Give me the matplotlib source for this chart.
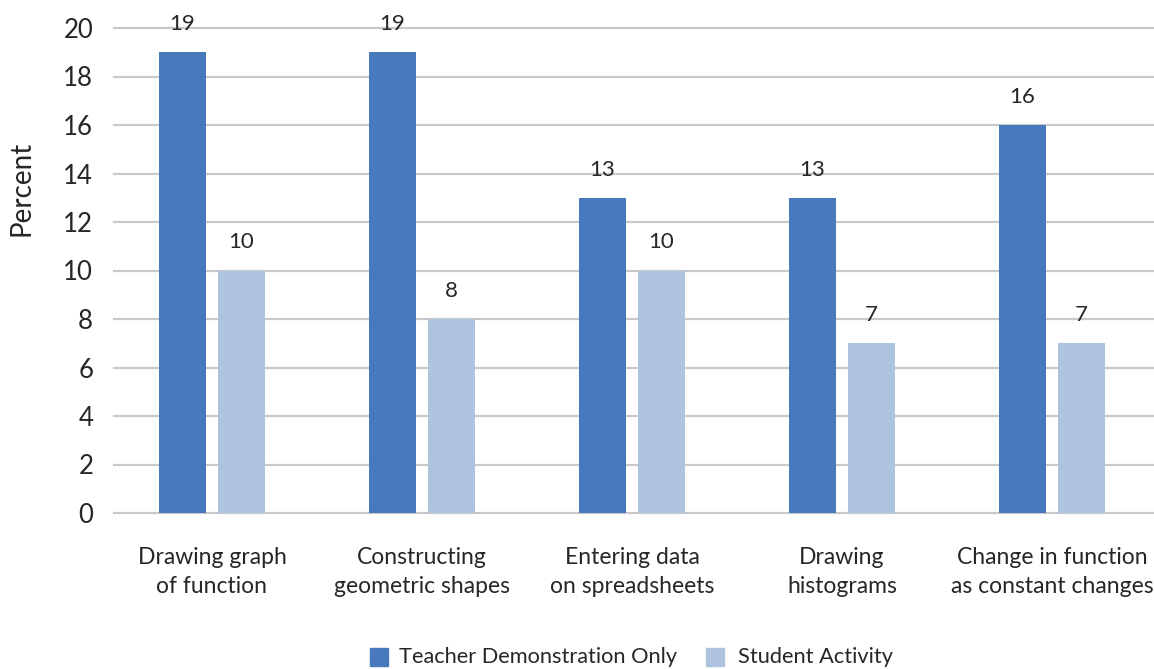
import matplotlib
matplotlib.use("Agg")
import matplotlib.pyplot as plt
from matplotlib.patches import Rectangle
import numpy as np

categories = [
    "Drawing graph\nof function",
    "Constructing\ngeometric shapes",
    "Entering data\non spreadsheets",
    "Drawing\nhistograms",
    "Change in function\nas constant changes",
]
teacher = [19, 19, 13, 13, 16]
student = [10, 8, 10, 7, 7]
series_names = ["Teacher Demonstration Only", "Student Activity"]
yticks = [0, 2, 4, 6, 8, 10, 12, 14, 16, 18, 20]

teacher_color = "#4879bd"
student_color = "#adc3de"
grid_color = "#c9c9c9"
text_color = "#262626"

plt.rcParams["font.family"] = ["Lato", "DejaVu Sans"]

W, H = 1154, 669
fig = plt.figure(figsize=(W / 100, H / 100), dpi=100)
ax = fig.add_axes([114 / W, (H - 513) / H, (W - 114) / W, (513 - 28) / H])

x = np.arange(len(categories))
bw = 0.224
off = 0.1405
ax.bar(x - off, teacher, bw, color=teacher_color, zorder=3)
ax.bar(x + off, student, bw, color=student_color, zorder=3)

ax.set_xlim((114 - 212) / 210, (W - 212) / 210)
ax.set_ylim(0, 20)
ax.set_yticks(yticks)
ax.set_yticklabels([str(t) for t in yticks], fontsize=18.5, color=text_color)
ax.tick_params(axis="y", length=0, pad=15)
ax.set_xticks([])
for s in ax.spines.values():
    s.set_visible(False)
for t in yticks:
    ax.axhline(t, color=grid_color, lw=1.6, zorder=1, clip_on=False)

# value labels above each bar
for xs, vals in [(x - off, teacher), (x + off, student)]:
    for xi, v in zip(xs, vals):
        ax.annotate(str(v), (xi, v), xytext=(0, 28), textcoords="offset pixels",
                    ha="center", va="center", fontsize=16, color=text_color,
                    annotation_clip=False)

# category labels
for xi, lab in zip(x, categories):
    ax.annotate(lab, (xi, 0), xytext=(0, -59), textcoords="offset pixels",
                ha="center", va="center", fontsize=16.5, color=text_color,
                linespacing=1.5, annotation_clip=False)

fig.text(22 / W, 1 - 188 / H, "Percent", rotation=90, ha="center", va="center",
         fontsize=20, color=text_color)

# legend
leg_y = 1 - 657 / H
sq = 18
for sx, tx, col, name in [(370, 399, teacher_color, series_names[0]),
                          (706, 738, student_color, series_names[1])]:
    fig.patches.append(Rectangle((sx / W, leg_y - sq / 2 / H), sq / W, sq / H,
                                 transform=fig.transFigure, color=col))
    fig.text(tx / W, leg_y, name, ha="left", va="center", fontsize=15.7,
             color=text_color)

fig.savefig("out.png", dpi=100)
